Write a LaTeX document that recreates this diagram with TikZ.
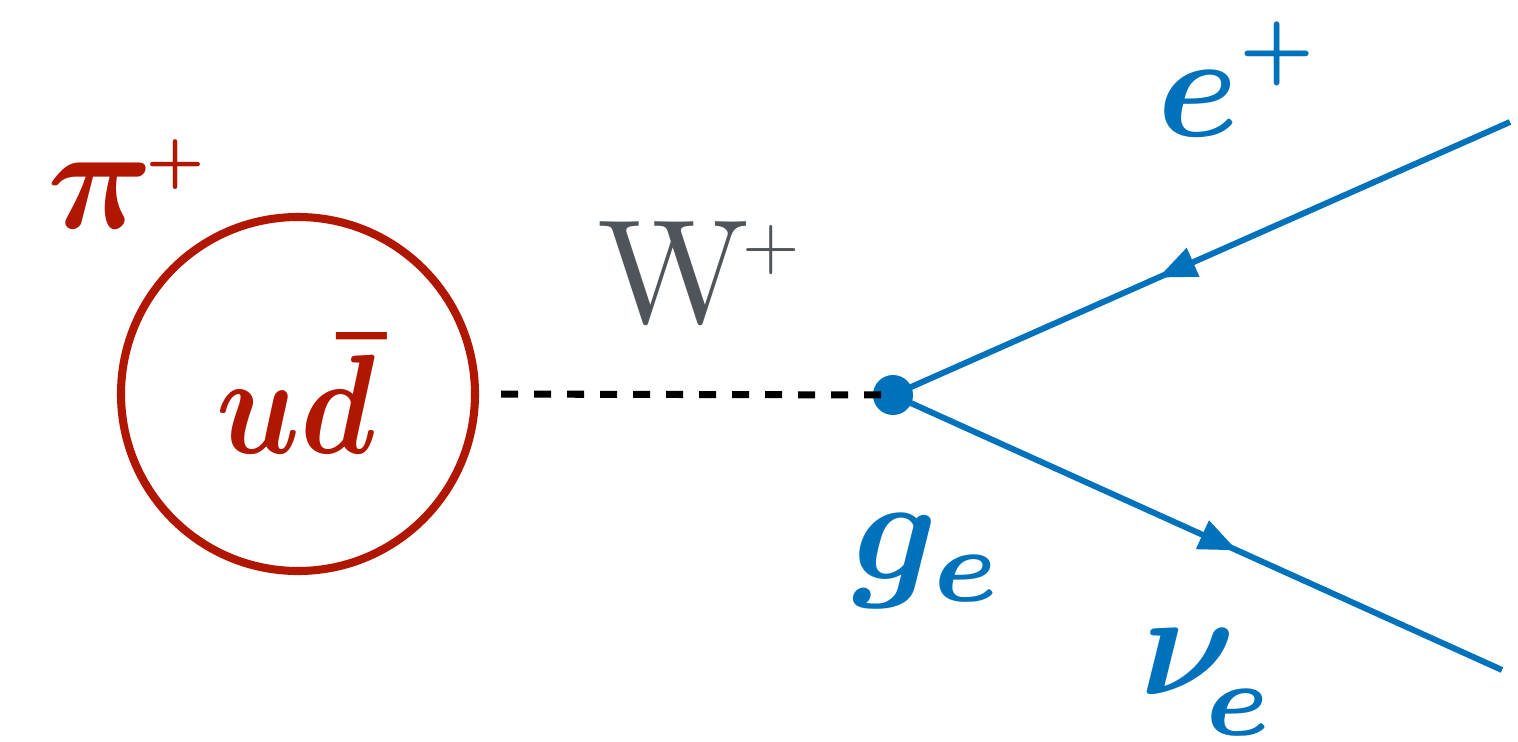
\documentclass[tikz,border=0pt]{standalone}
\usepackage{bm}
\usetikzlibrary{
  arrows.meta,
  decorations.markings
}
\definecolor{pionred}{RGB}{176,22,0}
\definecolor{leptonblue}{RGB}{0,114,187}
\definecolor{bosongray}{RGB}{80,85,92}

\begin{document}
\begin{tikzpicture}[
  big/.style={font=\normalsize, scale=4.2, transform shape, inner sep=0pt},
  meson/.style={
    circle, draw=pionred, line width=2.3pt, minimum size=3.54cm,
    inner sep=0pt
  },
  vertex/.style={circle, fill=leptonblue, inner sep=0pt, minimum size=0.4cm},
  boson/.style={black, line width=2pt, dash pattern=on 0.17cm off 0.16cm},
  fermion/.style={
    leptonblue, line width=1.7pt,
    postaction={decorate},
    decoration={markings, mark=at position #1 with
      {\arrow{Triangle[length=0.38cm, width=0.3cm]}}}
  },
]
\useasboundingbox (0,0) rectangle (15.18,7.41);

% Pion
\node[meson] (pion) at (2.98,3.47) {};
\node[big, scale=0.96, xscale=0.87, text=pionred] (quarks) at (2.96,3.47) {$\bm{u\bar{d}}$};
\node[big, text=pionred, anchor=base west] (pilabel) at (0.45,5.13)
  {$\bm{\pi}$\hspace{-0.6pt}\raisebox{3.4pt}{\scalebox{0.7}{$\scriptscriptstyle\bm{+}$}}};

% W boson
\node[vertex] (vtx) at (8.93,3.46) {};
\node[big, text=bosongray, anchor=base west] (wlabel) at (5.95,4.19)
  {W\hspace{-0.5pt}\raisebox{3.6pt}{\scalebox{0.5}{$+$}}};
\draw[boson, shorten <=0.22cm] (pion.east) -- (vtx.center);

% Leptons
\coordinate (eend) at (15.10,6.19);
\coordinate (nuend) at (15.02,0.71);
\draw[fermion=0.57] (eend) -- (vtx.center);
\draw[fermion=0.565] (vtx.center) -- (nuend);

\node[big, text=leptonblue, anchor=base west] (elabel) at (11.55,6.04)
  {$\bm{e}$\hspace{-0.1pt}\raisebox{4.5pt}{\scalebox{0.9}{$\scriptscriptstyle\bm{+}$}}};
\node[big, text=leptonblue, anchor=base west] (glabel) at (8.50,1.62)
  {$\bm{g}_{\bm{e}}$};
\node[big, text=leptonblue, anchor=base west] (nulabel) at (11.38,0.47)
  {$\bm{\nu}_{\!\lower0.3ex\hbox{$\scriptstyle\bm{e}$}}$};

\end{tikzpicture}
\end{document}
